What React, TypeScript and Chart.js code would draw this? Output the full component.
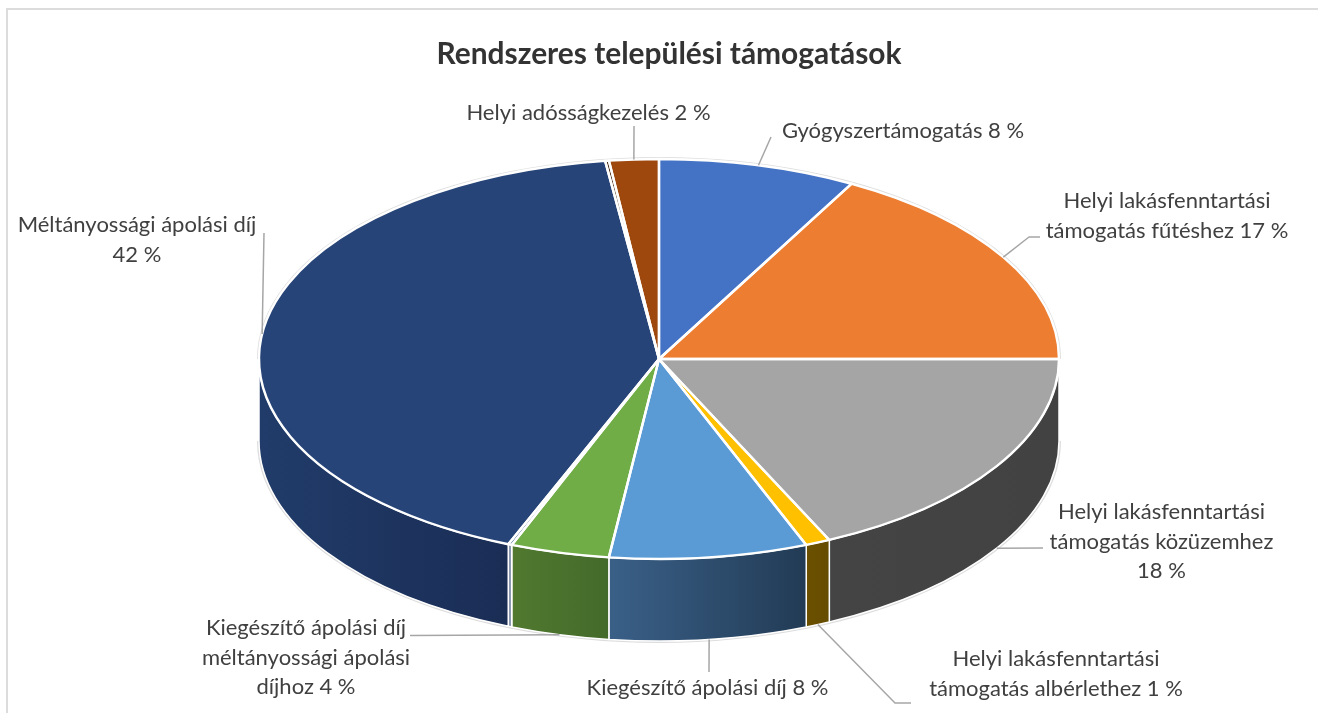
import React, { useEffect, useRef } from "react";
import { Chart, registerables } from "chart.js";

Chart.register(...registerables);

const titleText = "Rendszeres települési támogatások";

const categories = [
  "Gyógyszertámogatás",
  "Helyi lakásfenntartási támogatás fűtéshez",
  "Helyi lakásfenntartási támogatás közüzemhez",
  "Helyi lakásfenntartási támogatás albérlethez",
  "Kiegészítő ápolási díj",
  "Kiegészítő ápolási díj méltányossági ápolási díjhoz",
  "",
  "Méltányossági ápolási díj",
  "",
  "Helyi adósságkezelés",
];
const shares = [8, 17, 18, 1, 8, 4, 0.15, 41.7, 0.15, 2];

const topColors = ["#4472C4", "#ED7D31", "#A5A5A5", "#FFC000", "#5B9BD5", "#70AD47", "#3E5C94", "#264478", "#4A3018", "#9E480E"];
const sideStart = ["#2C4A80", "#9C5220", "#444444", "#6B5000", "#3A6088", "#51792F", "#8C97B0", "#213C6A", "#4A3018", "#66300A"];
const sideEnd = ["#2C4A80", "#9C5220", "#424242", "#664C00", "#223B55", "#446A2B", "#8C97B0", "#1A2D55", "#4A3018", "#66300A"];

// Callout text, one row per line, centred on (cx, first line y)
const callouts = [
  { slice: 0, lines: ["Gyógyszertámogatás 8 %"], cx: 903, y: 131, path: [[771, 137]] },
  { slice: 1, lines: ["Helyi lakásfenntartási", "támogatás fűtéshez 17 %"], cx: 1167, y: 201, path: [[1040, 237], [1029, 237]] },
  { slice: 2, lines: ["Helyi lakásfenntartási", "támogatás közüzemhez", "18 %"], cx: 1161.5, y: 512, path: [[1043, 548]] },
  { slice: 3, lines: ["Helyi lakásfenntartási", "támogatás albérlethez 1 %"], cx: 1056, y: 659, path: [[911, 703], [895, 703]] },
  { slice: 4, lines: ["Kiegészítő ápolási díj 8 %"], cx: 707.5, y: 688, path: [[709, 672]] },
  { slice: 5, lines: ["Kiegészítő ápolási díj", "méltányossági ápolási", "díjhoz 4 %"], cx: 306, y: 628, path: [[410, 635.5]] },
  { slice: 7, lines: ["Méltányossági ápolási díj", "42 %"], cx: 137, y: 225, path: [[264, 233]] },
  { slice: 9, lines: ["Helyi adósságkezelés 2 %"], cx: 588.5, y: 113, path: [[634, 126]] },
];

const TILT = 0.5;
const DEPTH = 82;
const LABEL_FONT = "22px Lato";
const LINE_GAP = 29.5;

function isFrontAngle(a: number) {
  return a >= 0 && a <= Math.PI;
}

const pie3d = {
  id: "pie3d",
  afterLayout(chart: any) {
    if (chart.titleBlock) chart.titleBlock.left = 20;
  },
  beforeDatasetsDraw(chart: any) {
    const ctx = chart.ctx;
    const arcs = chart.getDatasetMeta(0).data;
    if (!arcs.length) return;
    const { x, y, outerRadius: rx } = arcs[0];
    const ry = rx * TILT;
    ctx.save();
    // soft outer rim
    ctx.strokeStyle = "#dddddd";
    ctx.lineWidth = 2;
    ctx.beginPath();
    ctx.ellipse(x, y, rx + 1, ry + 1, 0, Math.PI, 2 * Math.PI);
    ctx.stroke();
    ctx.beginPath();
    ctx.ellipse(x, y + DEPTH, rx + 1, ry + 1, 0, 0, Math.PI);
    ctx.stroke();
    // side walls
    arcs.forEach((el: any, i: number) => {
      const s = Math.max(el.startAngle, 0);
      const e = Math.min(el.endAngle, Math.PI);
      if (s >= e) return;
      const x0 = x + rx * Math.cos(s);
      const x1 = x + rx * Math.cos(e);
      const g = ctx.createLinearGradient(Math.min(x0, x1), 0, Math.max(x0, x1), 0);
      g.addColorStop(0, sideStart[i]);
      g.addColorStop(1, sideEnd[i]);
      ctx.beginPath();
      ctx.ellipse(x, y, rx, ry, 0, s, e);
      ctx.ellipse(x, y + DEPTH, rx, ry, 0, e, s, true);
      ctx.closePath();
      ctx.fillStyle = g;
      ctx.fill();
      ctx.strokeStyle = "#ffffff";
      ctx.lineWidth = 1.5;
      ctx.stroke();
    });
    ctx.restore();
  },
  beforeDatasetDraw(chart: any) {
    const ctx = chart.ctx;
    const el = chart.getDatasetMeta(0).data[0];
    if (!el) return;
    ctx.save();
    ctx.translate(el.x, el.y);
    ctx.scale(1, TILT);
    ctx.translate(-el.x, -el.y);
  },
  afterDatasetDraw(chart: any) {
    chart.ctx.restore();
  },
  afterDatasetsDraw(chart: any) {
    const ctx = chart.ctx;
    const arcs = chart.getDatasetMeta(0).data;
    ctx.save();
    // white separators on the top face
    ctx.strokeStyle = "#ffffff";
    ctx.lineWidth = 2.4;
    ctx.lineJoin = "round";
    arcs.forEach((el: any) => {
      ctx.beginPath();
      ctx.moveTo(el.x, el.y);
      ctx.ellipse(el.x, el.y, el.outerRadius, el.outerRadius * TILT, 0, el.startAngle, el.endAngle);
      ctx.closePath();
      ctx.stroke();
    });
    // leader lines
    ctx.strokeStyle = "#a6a6a6";
    ctx.lineWidth = 1.5;
    callouts.forEach((c) => {
      const el = arcs[c.slice];
      const mid = (el.startAngle + el.endAngle) / 2;
      const ax = el.x + el.outerRadius * Math.cos(mid);
      const ay = el.y + el.outerRadius * TILT * Math.sin(mid) + (isFrontAngle(mid) ? DEPTH : 0);
      ctx.beginPath();
      c.path.forEach((p, k) => (k ? ctx.lineTo(p[0], p[1]) : ctx.moveTo(p[0], p[1])));
      ctx.lineTo(ax, ay);
      ctx.stroke();
    });
    // callout text
    ctx.fillStyle = "#404040";
    ctx.font = LABEL_FONT;
    ctx.textAlign = "center";
    ctx.textBaseline = "middle";
    callouts.forEach((c) => {
      c.lines.forEach((t, k) => ctx.fillText(t, c.cx, c.y + k * LINE_GAP));
    });
    ctx.restore();
  },
};

export default function App() {
  const ref = useRef<HTMLCanvasElement>(null);
  useEffect(() => {
    const chart = new Chart(ref.current as HTMLCanvasElement, {
      type: "pie",
      data: {
        labels: categories,
        datasets: [
          {
            data: shares,
            backgroundColor: topColors,
            borderWidth: 0,
            clip: false,
          } as any,
        ],
      },
      options: {
        responsive: false,
        animation: false,
        radius: 400,
        layout: { padding: { top: 0, bottom: 95, left: 0, right: 0 } },
        plugins: {
          legend: { display: false },
          tooltip: { enabled: false },
          title: {
            display: true,
            text: titleText,
            color: "#333333",
            font: { family: "Lato", size: 29.9, weight: "bold", lineHeight: 1.2 },
            padding: { top: 36.1, bottom: 28 },
          },
        },
      } as any,
      plugins: [pie3d as any],
    });
    return () => chart.destroy();
  }, []);
  return (
    <div style={{ position: "fixed", inset: 0, overflow: "hidden", background: "#ffffff" }}>
      <div
        style={{
          position: "absolute",
          left: 6,
          top: 8,
          right: 0,
          bottom: 0,
          borderLeft: "2px solid #dcdcdc",
          borderTop: "2px solid #dcdcdc",
        }}
      />
      <canvas ref={ref} width={1318} height={713} style={{ position: "absolute", left: 0, top: 0 }} />
    </div>
  );
}
